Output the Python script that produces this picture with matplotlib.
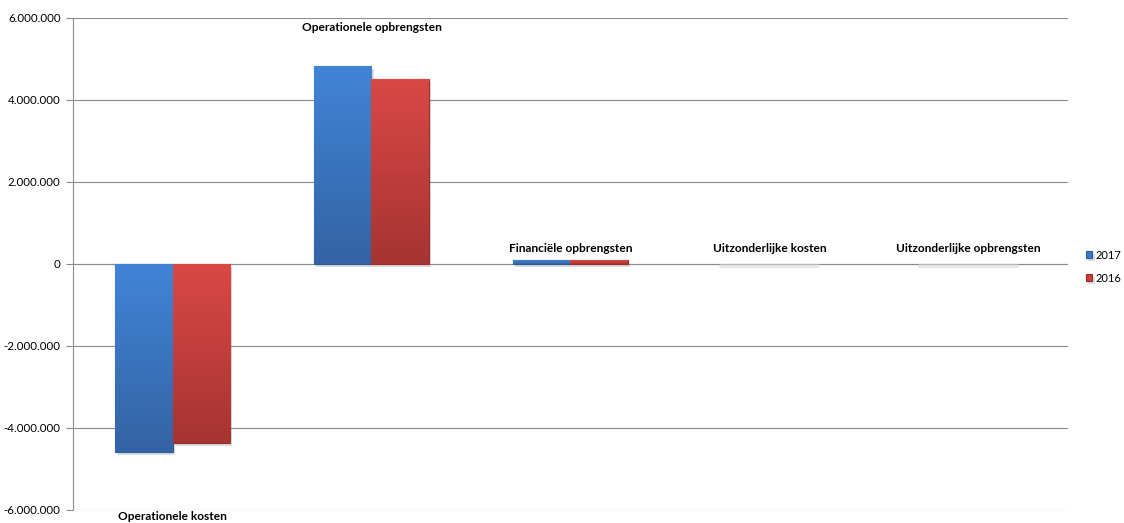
import numpy as np
import matplotlib
matplotlib.use("Agg")
import matplotlib.pyplot as plt
import matplotlib.patheffects as pe
from matplotlib.colors import LinearSegmentedColormap
from matplotlib.ticker import FuncFormatter

categories = ["Operationele kosten", "Operationele opbrengsten",
              "Financiële opbrengsten", "Uitzonderlijke kosten",
              "Uitzonderlijke opbrengsten"]
values_2017 = [-4580000, 4830000, 95000, 0, 0]
values_2016 = [-4360000, 4510000, 90000, 0, 0]
label_y = [-6170000, 5780000, 370000, 370000, 370000]
yticks = [-6000000, -4000000, -2000000, 0, 2000000, 4000000, 6000000]

plt.rcParams['font.family'] = ['Lato', 'DejaVu Sans']


def dotted(v, pos=None):
    s = "{:,.0f}".format(abs(v)).replace(",", ".")
    return ("-" if v < 0 else "") + s


def shade(ax, bars, light, dark):
    # vertical gradient painted inside each bar, light on top
    cmap = LinearSegmentedColormap.from_list("g", [dark, light])
    grad = np.linspace(0, 1, 64).reshape(-1, 1)
    for b in bars:
        if b.get_height() == 0:
            b.set_visible(False)
            continue
        x0, y0 = b.get_x(), b.get_y()
        x1, y1 = x0 + b.get_width(), y0 + b.get_height()
        im = ax.imshow(grad, cmap=cmap, aspect="auto", origin="lower",
                       extent=[x0, x1, min(y0, y1), max(y0, y1)], zorder=3.5)
        im.set_clip_path(b)


fig = plt.figure(figsize=(11.24, 5.23), dpi=100)
ax = fig.add_axes([0.065, 0.0249, 0.885, 0.9407])

x = np.arange(len(categories))
w = 0.287
shadow = [pe.SimplePatchShadow(offset=(1.5, -2), alpha=0.25, shadow_rgbFace="#777777"), pe.Normal()]
b1 = ax.bar(x - w / 2, values_2017, w, color="#3b77c6", edgecolor="#2b5c9c",
            linewidth=0.8, label="2017", zorder=3, path_effects=shadow)
b2 = ax.bar(x + w / 2, values_2016, w, color="#c93e3c", edgecolor="#9b2d2b",
            linewidth=0.8, label="2016", zorder=3, path_effects=shadow)
shade(ax, b1, "#4184d6", "#3463a5")
shade(ax, b2, "#d94845", "#a63432")

# faint shadows where the values are about zero
for xi, v1, v2 in zip(x, values_2017, values_2016):
    if v1 == 0 and v2 == 0:
        ax.plot([xi - w * 0.85, xi + w * 0.85], [-60000, -60000], color="#d8d8d8",
                linewidth=3, alpha=0.6, solid_capstyle="round", zorder=2)

for xi, name, ly in zip(x, categories, label_y):
    ax.text(xi, ly, name, ha="center", va="center", fontsize=8.6,
            fontweight="bold", clip_on=False, zorder=5)

ax.set_xlim(-0.5, 4.5)
ax.set_ylim(-6000000, 6000000)
ax.set_yticks(yticks)
ax.yaxis.set_major_formatter(FuncFormatter(dotted))
ax.tick_params(axis="y", labelsize=8.3, length=5, color="#8c8c8c", width=0.8, pad=4)
ax.set_xticks([])
ax.grid(axis="y", color="#8c8c8c", linewidth=0.8, zorder=0)
ax.axhline(0, color="#8c8c8c", linewidth=0.8, zorder=1)
for s in ["top", "right", "bottom"]:
    ax.spines[s].set_visible(False)
ax.spines["left"].set_color("#8c8c8c")
ax.spines["left"].set_linewidth(0.8)

fig.legend(handles=[b1, b2], loc="center left", bbox_to_anchor=(0.966, 0.49),
           frameon=False, fontsize=8, handlelength=0.6, handleheight=0.6,
           handletextpad=0.3, labelspacing=1.1, borderaxespad=0, borderpad=0)

fig.savefig("out.png", dpi=100)
